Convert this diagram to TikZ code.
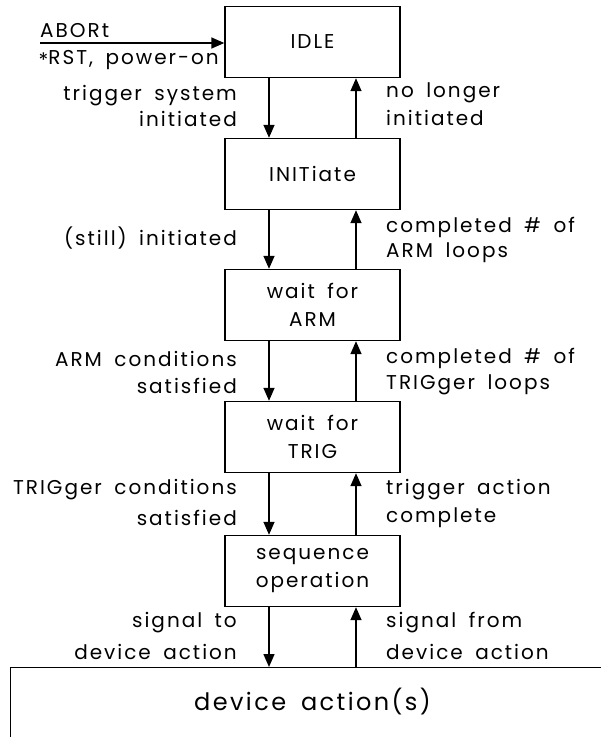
\documentclass[tikz,border=0pt]{standalone}
\usepackage{fontspec}
\setmainfont{Poppins}[LetterSpace=10, WordSpace=1.7]
\usetikzlibrary{arrows.meta}
\tikzset{
  every node/.style={font=\fontsize{20}{28}\selectfont, inner sep=0pt},
  statebox/.style={draw, line width=1.4pt, minimum width=175pt, minimum height=71pt, align=center},
  arr/.style={line width=1.5pt, -{Triangle[width=11pt,length=13pt]}},
  lbl/.style={anchor=east, align=right},
  rbl/.style={anchor=west, align=left},
}
\begin{document}
\begin{tikzpicture}[x=1pt,y=-1pt]
\clip (0,0) rectangle (601,737);
% state boxes
\node[statebox] (idle) at (312.5,42) {IDLE};
\node[statebox] (init) at (312.5,174) {INITiate};
\node[statebox] (arm)  at (312.5,305) {wait for\\ARM};
\node[statebox] (trig) at (312.5,437) {wait for\\TRIG};
\node[statebox] (seq)  at (312.5,571) {sequence\\operation};
\node[draw, line width=1.4pt, anchor=north west, minimum width=640pt, minimum height=90pt] (dev) at (10,667) {};
\node[font=\fontsize{24}{28}\selectfont] (devlabel) at (312.5,702) {device action(s)};
% input
\coordinate (src) at (40,43);
\draw[arr] (src) -- (src -| idle.west);
\node[anchor=west] (abort) at (40,31) {ABORt};
\node[anchor=east] (rst) at (219,60) {\raisebox{-0.25ex}{*}RST, power-on};
% transitions
\foreach \a/\b in {idle/init, init/arm, arm/trig, trig/seq, seq/dev}{
  \draw[arr] ([xshift=-43.5pt]\a.south) -- ([xshift=-43.5pt]\a.south |- \b.north);
  \draw[arr] ([xshift=43.5pt]\a.south |- \b.north) -- ([xshift=43.5pt]\a.south);
}
% labels
\node[lbl] (l1a) at (237,96) {trigger system};
\node[lbl] (l1b) at (237,119) {initiated};
\node[rbl] (r1a) at (386,93) {no longer};
\node[rbl] (r1b) at (386,118) {initiated};
\node[lbl] (l2) at (237,238) {(still) initiated};
\node[rbl] (r2a) at (386,227) {completed \# of};
\node[rbl] (r2b) at (386,253) {ARM loops};
\node[lbl] (l3a) at (237,359) {ARM conditions};
\node[lbl] (l3b) at (237,386) {satisfied};
\node[rbl] (r3a) at (386,358) {completed \# of};
\node[rbl] (r3b) at (386,385) {TRIGger loops};
\node[lbl] (l4a) at (237,490) {TRIGger conditions};
\node[lbl] (l4b) at (237,518) {satisfied};
\node[rbl] (r4a) at (386,490) {trigger action};
\node[rbl] (r4b) at (386,518) {complete};
\node[lbl] (l5a) at (237,623) {signal to};
\node[lbl] (l5b) at (237,652) {device action};
\node[rbl] (r5a) at (386,623) {signal from};
\node[rbl] (r5b) at (386,652) {device action};
\end{tikzpicture}
\end{document}
